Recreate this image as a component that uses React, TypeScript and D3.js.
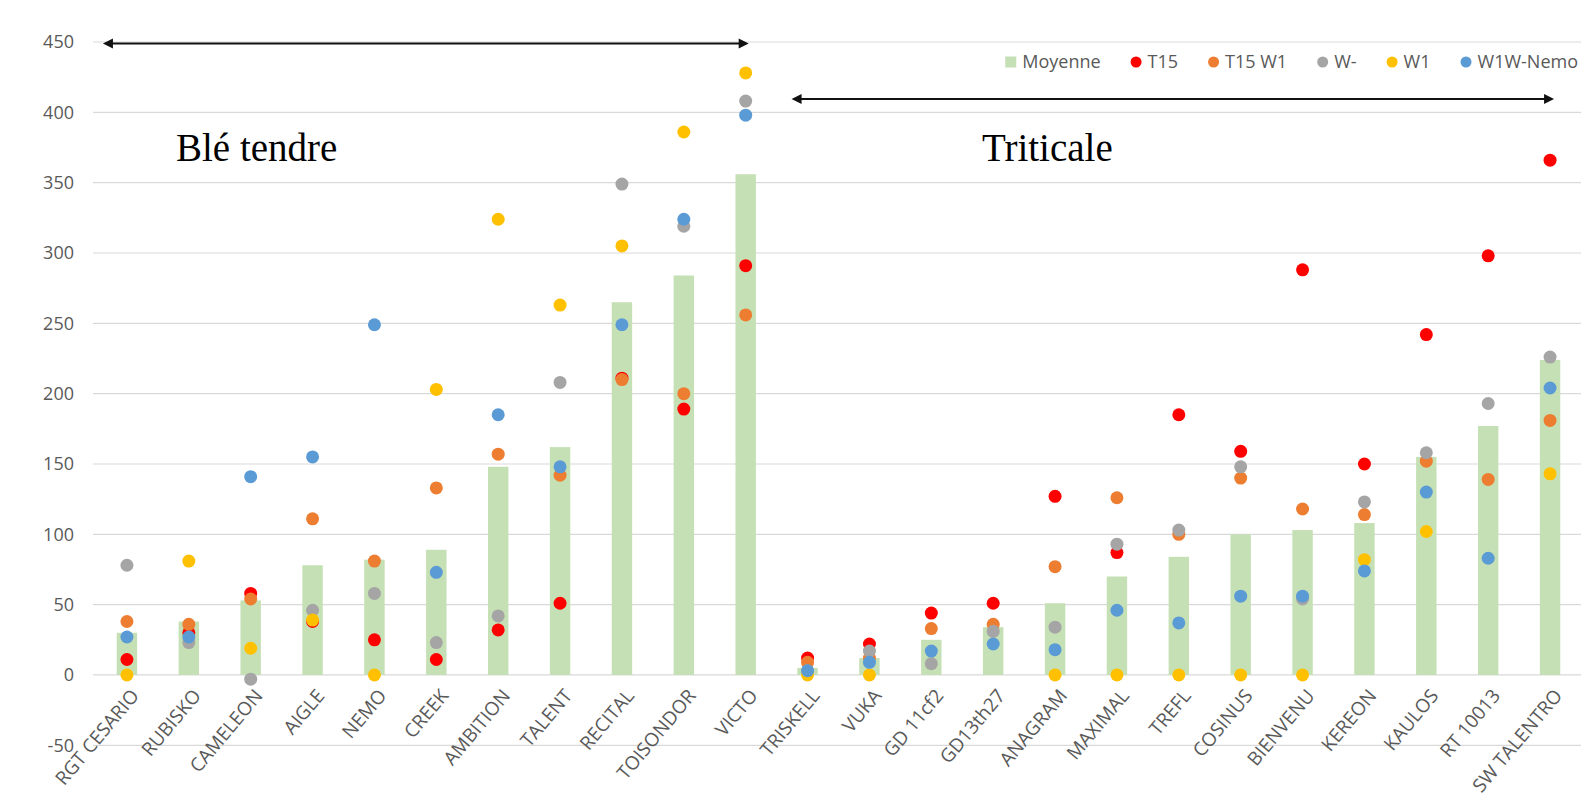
import { useEffect, useRef } from "react";
import * as d3 from "d3";

// varieties, in the order shown on the x axis
const categories = [
  "RGT CESARIO", "RUBISKO", "CAMELEON", "AIGLE", "NEMO", "CREEK", "AMBITION",
  "TALENT", "RECITAL", "TOISONDOR", "VICTO", "TRISKELL", "VUKA", "GD 11cf2",
  "GD13th27", "ANAGRAM", "MAXIMAL", "TREFL", "COSINUS", "BIENVENU", "KEREON",
  "KAULOS", "RT 10013", "SW TALENTRO",
];

const moyenne = [30, 38, 53, 78, 82, 89, 148, 162, 265, 284, 356, 5, 12, 25, 34, 51, 70, 84, 100, 103, 108, 155, 177, 224];
const t15 = [11, 30, 58, 38, 25, 11, 32, 51, 211, 189, 291, 12, 22, 44, 51, 127, 87, 185, 159, 288, 150, 242, 298, 366];
const t15w1 = [38, 36, 54, 111, 81, 133, 157, 142, 210, 200, 256, 9, 12, 33, 36, 77, 126, 100, 140, 118, 114, 152, 139, 181];
const wMinus = [78, 23, -3, 46, 58, 23, 42, 208, 349, 319, 408, 3, 17, 8, 31, 34, 93, 103, 148, 54, 123, 158, 193, 226];
const w1 = [0, 81, 19, 39, 0, 203, 324, 263, 305, 386, 428, 0, 0, null, null, 0, 0, 0, 0, 0, 82, 102, null, 143];
const w1wNemo = [27, 27, 141, 155, 249, 73, 185, 148, 249, 324, 398, 3, 9, 17, 22, 18, 46, 37, 56, 56, 74, 130, 83, 204];

const yTicks = [-50, 0, 50, 100, 150, 200, 250, 300, 350, 400, 450];

const dotSeries = [
  { name: "T15", values: t15, color: "#ff0000" },
  { name: "T15 W1", values: t15w1, color: "#ed7d31" },
  { name: "W-", values: wMinus, color: "#a5a5a5" },
  { name: "W1", values: w1, color: "#ffc000" },
  { name: "W1W-Nemo", values: w1wNemo, color: "#5b9bd5" },
];

const barColor = "#c5e0b4";
const font = "'Open Sans', 'Noto Sans', sans-serif";
const serif = "'Liberation Serif', 'DejaVu Serif', serif";

const App = () => {
  const ref = useRef<SVGSVGElement>(null);

  useEffect(() => {
    const svg = d3.select(ref.current);
    svg.selectAll("*").remove();

    const left = 96, right = 1581;
    const x = d3.scalePoint<string>().domain(categories).range([left, right]).padding(0.5);
    const y = d3.scaleLinear().domain([-50, 450]).range([745.3, 42]);
    const barW = x.step() * 0.33;

    // grid
    svg.append("g")
      .selectAll("line")
      .data(yTicks)
      .join("line")
      .attr("x1", 93)
      .attr("x2", right)
      .attr("y1", (d) => y(d))
      .attr("y2", (d) => y(d))
      .attr("stroke", "#d9d9d9")
      .attr("stroke-width", 1.2);

    svg.append("g")
      .selectAll("text")
      .data(yTicks)
      .join("text")
      .attr("x", 74)
      .attr("y", (d) => y(d))
      .attr("dy", "0.35em")
      .attr("text-anchor", "end")
      .attr("font-family", font)
      .attr("font-size", 18)
      .attr("fill", "#595959")
      .text((d) => d);

    // Moyenne bars
    svg.append("g")
      .selectAll("rect")
      .data(moyenne)
      .join("rect")
      .attr("x", (d, i) => x(categories[i])! - barW / 2)
      .attr("width", barW)
      .attr("y", (d) => y(Math.max(d, 0)))
      .attr("height", (d) => Math.abs(y(d) - y(0)))
      .attr("fill", barColor);

    // dots, drawn in series order so the last one sits on top
    dotSeries.forEach((s) => {
      svg.append("g")
        .selectAll("circle")
        .data(s.values.map((v, i) => ({ v, c: categories[i] })).filter((d) => d.v !== null))
        .join("circle")
        .attr("cx", (d) => x(d.c)!)
        .attr("cy", (d) => y(d.v as number))
        .attr("r", 6.5)
        .attr("fill", s.color);
    });

    // category labels
    svg.append("g")
      .selectAll("text")
      .data(categories)
      .join("text")
      .attr("transform", (d) => `translate(${x(d)! + 8},${692}) rotate(-50)`)
      .attr("text-anchor", "end")
      .attr("dy", "0.35em")
      .attr("font-family", font)
      .attr("font-size", 19)
      .attr("fill", "#595959")
      .text((d) => d);

    // double arrows marking the two groups
    const arrow = (x1: number, x2: number, yy: number) => {
      const g = svg.append("g");
      g.append("line")
        .attr("x1", x1 + 6).attr("x2", x2 - 6)
        .attr("y1", yy).attr("y2", yy)
        .attr("stroke", "#111").attr("stroke-width", 2);
      g.append("path")
        .attr("d", `M${x1},${yy} l10,-5 l0,10 Z M${x2},${yy} l-10,-5 l0,10 Z`)
        .attr("fill", "#111");
    };
    arrow(x(categories[0])! - 24, x("VICTO")! + 3, y(449));
    arrow(x("TRISKELL")! - 16, x("SW TALENTRO")! + 4, y(409.5));

    svg.append("text")
      .attr("x", 176).attr("y", 161)
      .attr("font-family", serif)
      .attr("font-size", 39)
      .attr("fill", "#000")
      .text("Blé tendre");
    svg.append("text")
      .attr("x", 982).attr("y", 161)
      .attr("font-family", serif)
      .attr("font-size", 39)
      .attr("fill", "#000")
      .text("Triticale");

    // legend, laid out left to right then right-aligned
    const legendItems = [{ name: "Moyenne", color: barColor, square: true },
      ...dotSeries.map((s) => ({ name: s.name, color: s.color, square: false }))];
    const lg = svg.append("g");
    let cx = 0;
    const gap = 30;
    legendItems.forEach((it) => {
      const g = lg.append("g").attr("transform", `translate(${cx},0)`);
      if (it.square) {
        g.append("rect").attr("x", 0).attr("y", -5.5).attr("width", 11).attr("height", 11).attr("fill", it.color);
      } else {
        g.append("circle").attr("cx", 5.5).attr("cy", 0).attr("r", 5.5).attr("fill", it.color);
      }
      const t = g.append("text")
        .attr("x", 17)
        .attr("dy", "0.35em")
        .attr("font-family", font)
        .attr("font-size", 18)
        .attr("fill", "#595959")
        .text(it.name);
      const w = (t.node() as SVGTextElement).getComputedTextLength();
      cx += 17 + w + gap;
    });
    const total = cx - gap;
    lg.attr("transform", `translate(${1578 - total},62)`);
  }, []);

  return (
    <div style={{ position: "absolute", left: 0, top: 0 }}>
      <svg ref={ref} width={1591} height={803} style={{ display: "block", background: "#fff" }} />
    </div>
  );
};

export default App;
